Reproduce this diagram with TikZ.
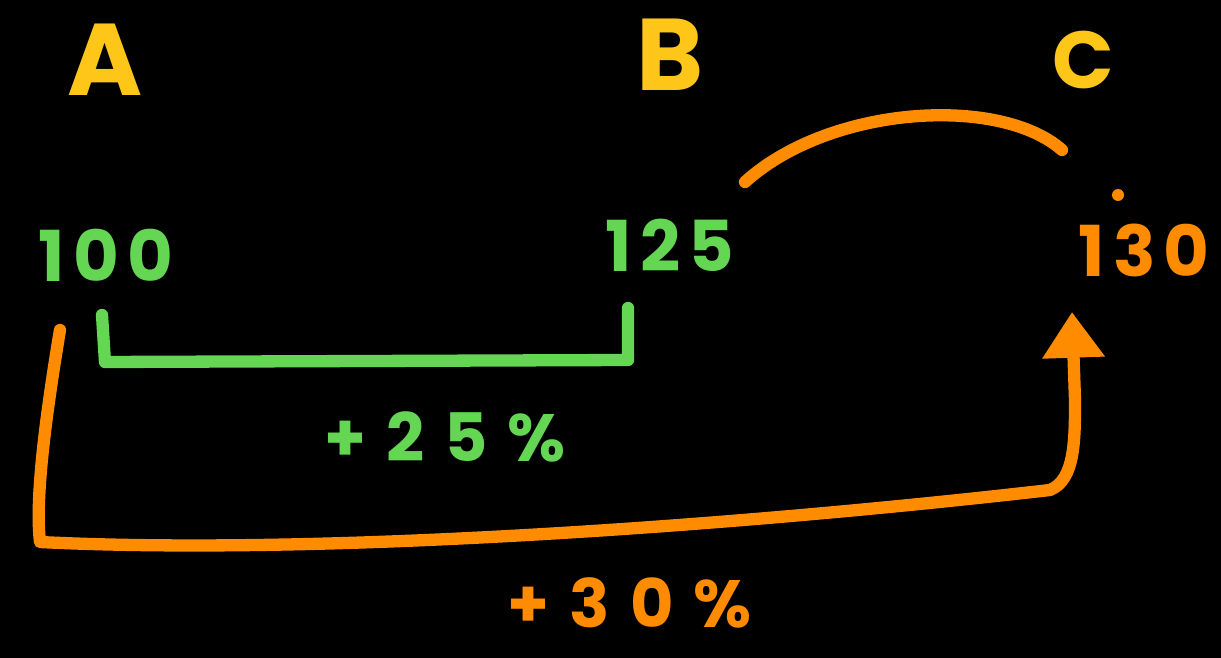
\documentclass[tikz,border=0pt]{standalone}
\usepackage{fontspec}
\setmainfont{Poppins}
\usetikzlibrary{arrows.meta, positioning, calc}

\definecolor{inkyellow}{RGB}{255,198,26}
\definecolor{inkgreen}{RGB}{100,214,84}
\definecolor{inkorange}{RGB}{255,140,0}

\begin{document}
\begin{tikzpicture}[x=0.02cm, y=-0.02cm,
    label/.style={text=inkyellow, font=\fontsize{58}{60}\selectfont\bfseries},
    price/.style={text=inkgreen, font=\fontsize{40}{44}\selectfont\bfseries\addfontfeature{LetterSpace=12}},
    change/.style={inner sep=0pt, font=\fontsize{38}{42}\selectfont\bfseries\addfontfeature{LetterSpace=30}},
    pen/.style={line width=7pt, line cap=round, line join=round}]
  \fill[black] (0,0) rectangle (1221,658);
  \useasboundingbox (0,0) rectangle (1221,658);

  % points
  \node[label] (ptA) at (105,60) {A};
  \node[label] (ptB) at (670,55) {B};
  \node[label, font=\fontsize{46}{50}\selectfont\bfseries] (ptC) at (1083,60) {C};

  % prices
  \node[price] (pa) at (106,255) {100};
  \node[price] (pb) at (670,245) {125};
  \node[price, text=inkorange, anchor=west] (pc) at (1072,250) {130};

  % changes
  \node[change, text=inkgreen] (gainab) at (445,437) {+25\%};
  \node[change, text=inkorange] (gainac) at (630,603) {+30\%};

  % green bracket A -> B
  \coordinate (gl) at (102,315);
  \coordinate (gr) at (628,308);
  \draw[pen, inkgreen] (gl) -- (105,362) -- (628,360) -- (gr);

  % orange arc B -> C
  \coordinate (arcs) at (745,182);
  \coordinate (arce) at (1062,150);
  \draw[pen, inkorange] (arcs) .. controls (830,105) and (1000,95) .. (arce);
  \fill[inkorange] (1118,195) circle (6);

  % orange arrow A -> C
  \coordinate (al) at (60,330);
  \coordinate (ar) at (1072,312);
  \draw[pen, inkorange, -{Triangle[length=26pt, width=34pt]}]
    (al) .. controls (45,420) and (35,500) .. (40,542)
    .. controls (300,555) and (700,530) .. (1050,490)
    .. controls (1075,480) and (1075,440) .. (1075,400) -- (ar);
\end{tikzpicture}
\end{document}
